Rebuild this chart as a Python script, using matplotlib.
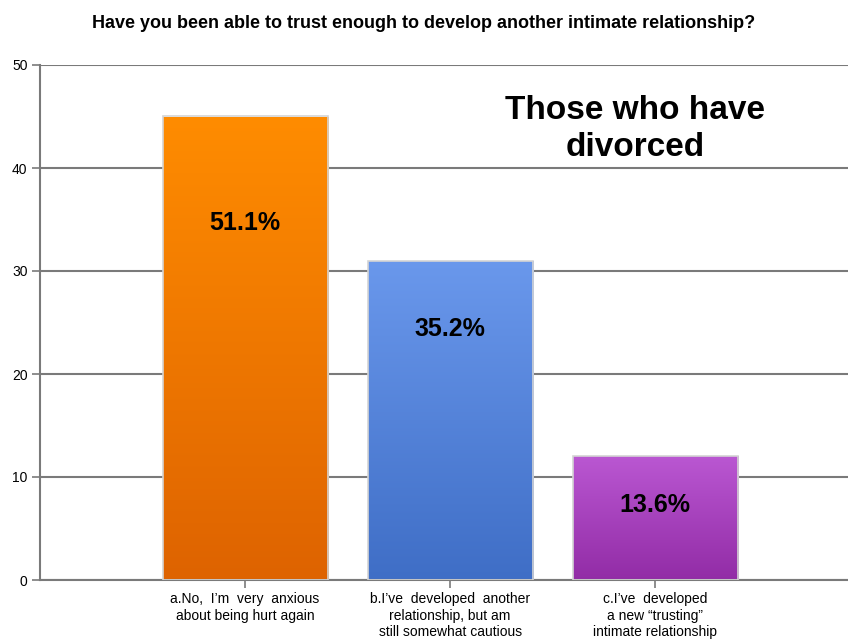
import numpy as np
import matplotlib.pyplot as plt
from matplotlib.colors import LinearSegmentedColormap

# data
categories = ["a.No,  I\u2019m  very  anxious\nabout being hurt again",
              "b.I\u2019ve  developed  another\nrelationship, but am\nstill somewhat cautious",
              "c.I\u2019ve  developed\na new \u201ctrusting\u201d\nintimate relationship"]
counts = [45, 31, 12]
pct_labels = ["51.1%", "35.2%", "13.6%"]
label_y = [34.7, 24.4, 7.3]

top_colors = ["#FF8C00", "#6A98EC", "#BA57D2"]
bottom_colors = ["#DE6300", "#3F6EC6", "#922CA6"]

plt.rcParams['font.family'] = ['Liberation Sans', 'DejaVu Sans']

fig = plt.figure(figsize=(8.48, 6.39), dpi=100)
ax = fig.add_axes([40/848, 59/639, 1 - 40/848, 515/639])

x = np.arange(len(counts))
bars = ax.bar(x, counts, width=0.805, color='none', edgecolor='#D4D4D4', linewidth=1.2, zorder=3)

# gradient fill for each bar
grad = np.linspace(0, 1, 256).reshape(-1, 1)
for b, c1, c2 in zip(bars, top_colors, bottom_colors):
    cmap = LinearSegmentedColormap.from_list('g', [c2, c1])
    x0, w, h = b.get_x(), b.get_width(), b.get_height()
    im = ax.imshow(grad, cmap=cmap, aspect='auto', origin='lower',
                   extent=(x0, x0 + w, 0, h), zorder=2)
    im.set_clip_path(b)

for xi, txt, ly in zip(x, pct_labels, label_y):
    ax.text(xi, ly, txt, ha='center', va='center', fontsize=18, fontweight='bold', zorder=4)

ax.set_xlim(-1.0, 2.94)
ax.set_ylim(0, 50)
ax.set_yticks([0, 10, 20, 30, 40, 50])
ax.yaxis.grid(True, color='#7A7A7A', linewidth=1.5, zorder=1)
ax.set_axisbelow(True)
ax.set_xticks(x)
ax.set_xticklabels(categories, fontsize=10, linespacing=1.22)
for lab in ax.get_yticklabels():
    lab.set_fontsize(10)
ax.tick_params(axis='both', color='#7A7A7A', length=6, width=1.2, pad=3)

for s in ['top', 'right']:
    ax.spines[s].set_visible(False)
ax.spines['left'].set_color('#7A7A7A')
ax.spines['bottom'].set_color('#7A7A7A')
ax.spines['left'].set_linewidth(1.5)
ax.spines['bottom'].set_linewidth(1.5)

ax.text(1.9, 43.8, "Those who have\ndivorced", ha='center', va='center',
        fontsize=24, fontweight='bold', linespacing=1.25, zorder=4)

fig.text(0.5, 1 - 23/639, "Have you been able to trust enough to develop another intimate relationship?",
         ha='center', va='center', fontsize=13, fontweight='bold')

fig.savefig('out.png', dpi=100)
